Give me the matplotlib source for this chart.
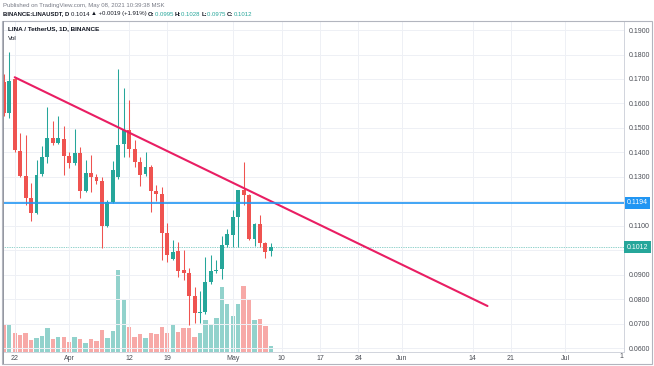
import matplotlib
matplotlib.use('Agg')
import matplotlib.pyplot as plt
import matplotlib.dates as mdates
import matplotlib.transforms as mtransforms
import numpy as np
import pandas as pd
from matplotlib.patches import Rectangle

plt.rcParams['font.family'] = ['Liberation Sans', 'DejaVu Sans']

# daily candles BINANCE:LINAUSDT, Mar 20 .. May 8 2021
dates = pd.date_range('2021-03-20', periods=50, freq='D')
opens = [0.1689, 0.1560, 0.1700, 0.1405, 0.1304, 0.1212, 0.1151, 0.1310, 0.1382, 0.1457,
         0.1437, 0.1453, 0.1385, 0.1355, 0.1398, 0.1242, 0.1317, 0.1300, 0.1283, 0.1100,
         0.1198, 0.1300, 0.1433, 0.1490, 0.1414, 0.1359, 0.1310, 0.1341, 0.1242, 0.1228,
         0.1069, 0.0966, 0.0998, 0.0918, 0.0905, 0.0813, 0.0742, 0.0746, 0.0871, 0.0915,
         0.0922, 0.1021, 0.1063, 0.1137, 0.1246, 0.1225, 0.1044, 0.1107, 0.1028, 0.0995]
highs = [0.1720, 0.1810, 0.1705, 0.1480, 0.1470, 0.1274, 0.1369, 0.1426, 0.1586, 0.1530,
         0.1548, 0.1508, 0.1400, 0.1495, 0.1423, 0.1369, 0.1390, 0.1310, 0.1300, 0.1205,
         0.1365, 0.1740, 0.1662, 0.1614, 0.1450, 0.1380, 0.1400, 0.1350, 0.1265, 0.1257,
         0.1110, 0.1042, 0.1035, 0.1000, 0.0927, 0.0850, 0.0835, 0.0973, 0.0980, 0.0960,
         0.1058, 0.1088, 0.1164, 0.1246, 0.1362, 0.1230, 0.1110, 0.1144, 0.1035, 0.1028]
lows = [0.1550, 0.1540, 0.1400, 0.1300, 0.1185, 0.1120, 0.1150, 0.1305, 0.1356, 0.1430,
        0.1436, 0.1307, 0.1336, 0.1350, 0.1212, 0.1238, 0.1240, 0.1270, 0.1010, 0.1095,
        0.1195, 0.1293, 0.1382, 0.1380, 0.1341, 0.1264, 0.1305, 0.1158, 0.1200, 0.0960,
        0.0953, 0.0960, 0.0891, 0.0880, 0.0694, 0.0702, 0.0702, 0.0740, 0.0860, 0.0905,
        0.0881, 0.1015, 0.1012, 0.1012, 0.1185, 0.1040, 0.1017, 0.1014, 0.0967, 0.0975]
closes = [0.1560, 0.1693, 0.1410, 0.1305, 0.1215, 0.1151, 0.1307, 0.1382, 0.1457, 0.1437,
          0.1457, 0.1385, 0.1355, 0.1398, 0.1242, 0.1317, 0.1300, 0.1283, 0.1100, 0.1198,
          0.1328, 0.1432, 0.1491, 0.1414, 0.1359, 0.1307, 0.1341, 0.1242, 0.1228, 0.1069,
          0.0980, 0.0994, 0.0916, 0.0905, 0.0813, 0.0742, 0.0749, 0.0871, 0.0916, 0.0921,
          0.1021, 0.1065, 0.1137, 0.1246, 0.1225, 0.1044, 0.1107, 0.1028, 0.0994, 0.1012]
volumes = [27.0, 27.0, 19.3, 17.0, 18.7, 11.7, 14.3, 15.7, 24.3, 13.3,
           15.0, 14.7, 10.3, 15.3, 12.7, 9.3, 13.0, 11.0, 22.3, 13.7,
           20.7, 81.7, 52.7, 25.3, 15.3, 17.7, 14.3, 18.7, 17.7, 25.3,
           19.3, 26.7, 20.0, 24.3, 24.3, 15.3, 19.3, 31.7, 27.7, 33.7,
           65.0, 48.3, 36.0, 47.7, 65.7, 53.3, 31.7, 33.3, 25.7, 5.7]

# drawings
trend_dates = ['2021-03-22 00:00', '2021-06-16 18:00']
trend_prices = [0.1707, 0.0772]
support = 0.1194
last_price = 0.1012

price_ticks = [0.06, 0.07, 0.08, 0.09, 0.10, 0.11, 0.12, 0.13, 0.14, 0.15, 0.16, 0.17, 0.18, 0.19]
# 0.1000 and 0.1200 are hidden behind the price markers
price_labels = ['0.0600', '0.0700', '0.0800', '0.0900', '', '0.1100', '', '0.1300', '0.1400',
                '0.1500', '0.1600', '0.1700', '0.1800', '0.1900']
date_ticks = ['2021-03-22', '2021-04-01', '2021-04-12', '2021-04-19', '2021-05-01', '2021-05-10',
              '2021-05-17', '2021-05-24', '2021-06-01', '2021-06-14', '2021-06-21', '2021-07-01']
date_labels = ['22', 'Apr', '12', '19', 'May', '10', '17', '24', 'Jun', '14', '21', 'Jul']

W, H = 654, 366
UP, DOWN = '#26a69a', '#ef5350'
LEFT, RIGHT, TOP, BOTTOM = 3, 624, 21, 352

fig = plt.figure(figsize=(W / 100, H / 100), dpi=100)
pos = [LEFT / W, 1 - BOTTOM / H, (RIGHT - LEFT) / W, (BOTTOM - TOP) / H]
axv = fig.add_axes(pos)
ax = fig.add_axes(pos, sharex=axv)
ax.patch.set_visible(False)

x = mdates.date2num(dates)
o = np.array(opens)
c = np.array(closes)
up = c >= o
col = np.where(up, UP, DOWN)
vcol = np.where(up, '#92d2cc', '#f7a9a7')

# volume pane (own scale, drawn under the candles)
axv.bar(x, volumes, width=0.8, color=vcol, lw=0)
axv.set_ylim(0, 331)
axv.axis('off')

ax.grid(True, color='#eef0f5', lw=0.7, zorder=0)

# candles
ax.vlines(x, lows, highs, colors=col, lw=0.75, zorder=2)
ax.bar(x, np.maximum(np.abs(c - o), 0.0004), bottom=np.minimum(o, c), width=0.72,
       color=col, lw=0, zorder=3)

# trendline and levels
ax.plot(mdates.date2num(pd.to_datetime(trend_dates)), trend_prices, color='#e91e63', lw=1.5,
        solid_capstyle='round', zorder=4)
ax.axhline(support, color='#2196f3', lw=1.2, zorder=4)
ax.axhline(last_price, color=UP, lw=0.5, ls=(0, (1, 1.5)), zorder=1)

d0 = mdates.date2num(pd.Timestamp('2021-03-22'))
ax.set_xlim(d0 - 2.15, d0 + (RIGHT - 14.7) / 5.45)
ax.set_ylim(0.0584, 0.1937)

ax.yaxis.tick_right()
ax.set_yticks(price_ticks)
ax.set_yticklabels(price_labels)
ax.set_xticks(mdates.date2num(pd.to_datetime(date_ticks)))
ax.set_xticklabels(date_labels)
ax.tick_params(axis='y', length=0, pad=3.5, labelsize=5, labelcolor='#4a4d55')
ax.tick_params(axis='x', length=0, pad=2.5, labelsize=5, labelcolor='#4a4d55')

for s in ['top', 'left']:
    ax.spines[s].set_visible(False)
ax.spines['right'].set_color('#d1d4dc')
ax.spines['bottom'].set_color('#d1d4dc')
ax.spines['right'].set_linewidth(0.7)
ax.spines['bottom'].set_linewidth(0.7)

# price markers on the scale
tr = mtransforms.blended_transform_factory(fig.transFigure, ax.transData)
for val, fc in [(support, '#2196f3'), (last_price, UP)]:
    ax.text(637.5 / W, val, f'{val:.4f}', transform=tr, color='white', fontsize=5,
            va='center', ha='center',
            bbox=dict(boxstyle='square,pad=0.35', fc=fc, ec='none'))
fig.text(623 / W, 1 - 357 / H, '1', fontsize=5, color='#4a4d55', va='center', ha='right')

# frame
fig.add_artist(Rectangle((2 / W, 1 - 364 / H), 650 / W, 343 / H, transform=fig.transFigure,
                         fill=False, ec='#b2b5be', lw=0.8))
fig.add_artist(Rectangle((2.5 / W, 1 - 364 / H), 1.5 / W, 343 / H, transform=fig.transFigure,
                         fill=True, fc='#9598a1', ec='none'))

# legend text in pane
fig.text(8 / W, 1 - 29 / H, 'LINA / TetherUS, 1D, BINANCE', fontsize=4.6, fontweight='bold',
         color='#131722', va='center')
fig.text(8 / W, 1 - 38 / H, 'Vol', fontsize=4.6, color='#131722', va='center')

# header
fig.text(3 / W, 1 - 5 / H, 'Published on TradingView.com, May 08, 2021 10:39:38 MSK',
         fontsize=4.3, color='#787b86', va='center')

fig.canvas.draw()
renderer = fig.canvas.get_renderer()
parts = [('BINANCE:LINAUSDT, D ', '#131722', 'bold'), ('0.1014 ', '#131722', 'normal'),
         ('\u25b2 +0.0019 (+1.91%) ', '#131722', 'normal'),
         ('O:', '#131722', 'bold'), ('0.0995 ', UP, 'normal'),
         ('H:', '#131722', 'bold'), ('0.1028 ', UP, 'normal'),
         ('L:', '#131722', 'bold'), ('0.0975 ', UP, 'normal'),
         ('C:', '#131722', 'bold'), ('0.1012', UP, 'normal')]
xp = 3
for s, cc, w in parts:
    t = fig.text(xp / W, 1 - 14 / H, s, fontsize=4.3, color=cc, fontweight=w, va='center',
                 family=['Liberation Sans', 'DejaVu Sans'])
    xp += t.get_window_extent(renderer).width

fig.savefig('out.png', dpi=100)
